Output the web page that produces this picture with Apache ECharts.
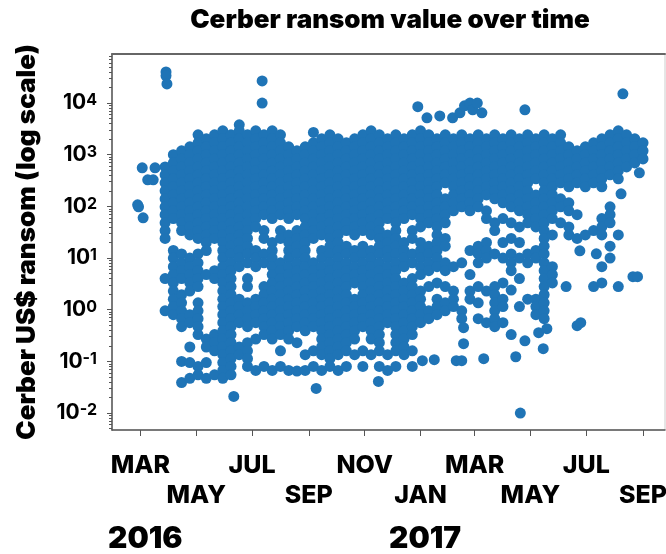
<!DOCTYPE html>
<html>
<head>
<meta charset="utf-8">
<title>Cerber ransom value over time</title>
<script src="https://cdn.jsdelivr.net/npm/echarts@6/dist/echarts.min.js"></script>
<style>
  html, body { margin: 0; padding: 0; background: #fff; }
  #chart { width: 666px; height: 554px; }
</style>
</head>
<body>
<div id="chart"></div>
<script>
const FONT = 'Inter, "Liberation Sans", sans-serif'

// x axis
const tickDates = ['2016-03-01', '2016-05-01', '2016-07-01', '2016-09-01', '2016-11-01', '2017-01-01', '2017-03-01', '2017-05-01', '2017-07-01', '2017-09-01']
const tickLabels = ['MAR', 'MAY', 'JUL', 'SEP', 'NOV', 'JAN', 'MAR', 'MAY', 'JUL', 'SEP']
const yTicks = [0.01, 0.1, 1, 10, 100, 1000, 10000]

// ransom values, grouped by date
const groupDates = [
  '2016-03-28', '2016-04-06', '2016-04-15', '2016-04-24', '2016-05-03', '2016-05-12', '2016-05-21', '2016-05-30',
  '2016-06-08', '2016-06-17', '2016-06-26', '2016-07-05', '2016-07-14', '2016-07-23', '2016-08-01', '2016-08-10',
  '2016-08-19', '2016-08-28', '2016-09-06', '2016-09-15', '2016-09-24', '2016-10-03', '2016-10-12', '2016-10-21',
  '2016-10-30', '2016-11-08', '2016-11-17', '2016-11-26', '2016-12-05', '2016-12-14', '2016-12-23', '2017-01-01',
  '2017-01-10', '2017-01-19', '2017-01-28', '2017-02-06', '2017-02-15', '2017-02-24', '2017-03-05', '2017-03-14',
  '2017-03-23', '2017-04-01', '2017-04-10', '2017-04-19', '2017-04-28', '2017-05-07', '2017-05-16', '2017-05-25',
  '2017-06-03', '2017-06-12', '2017-06-21', '2017-06-30', '2017-07-09', '2017-07-18', '2017-07-27', '2017-08-05',
  '2017-08-14', '2017-08-23', '2017-09-01'
]
const groupValues = [
  [580,408,286,200,140,98,69,48,34,24,4,.95],
  [1000,695,485,342,240,167,117,82,58,14,10,6.8,4.8,3.3,2.3,1.6,1.15,.8],
  [1190,830,580,408,286,200,140,98,69,48,34,12,8.1,5.7,4,1.95,1.36,.95,.67,.47,.1,.039],
  [1420,1000,695,485,342,240,167,117,82,58,40,28,10,6.8,4.8,3.3,2.3,.8,.56,.19,.095,.047],
  [2430,1700,1190,830,580,408,286,200,140,98,69,48,34,24,12,8.1,5.7,4,2.8,1.36,.95,.67,.47,.33,.08,.055],
  [2030,1420,1000,695,485,342,240,167,117,82,58,40,28,20,14,4.8,.27,.19,.095,.047],
  [2430,1700,1190,830,580,408,286,200,140,98,69,48,34,24,5.7,4,.33,.23,.16,.055],
  [2900,2030,1420,1000,695,485,342,240,167,117,82,58,40,28,20,14,10,6.8,4.8,3.3,2.3,1.6,1.15,.8,.56,.39,.27,.19,.135,.095,.067,.047],
  [2430,1700,1190,830,580,408,286,200,140,98,69,48,34,24,17,12,8.1,5.7,4,2.8,1.95,1.36,.95,.67,.47,.33,.23,.16,.113,.08,.055],
  [3800,2900,2030,1420,1000,695,485,342,240,167,117,82,58,40,28,20,14,10,6.8,1.6,1.15,.8,.56,.19,.135],
  [2430,1700,1190,830,580,408,286,200,140,98,69,48,34,24,17,12,8.1,4,2.8,1.36,.95,.67,.47,.23,.16,.113,.08],
  [2900,2030,1420,1000,695,485,342,240,167,117,82,58,40,14,10,6.8,1.6,1.15,.8,.56,.27,.067],
  [2430,1700,1190,830,580,408,286,200,140,98,69,34,24,12,8.1,2.8,1.95,1.36,.95,.67,.47,.33,.08],
  [2900,2030,1420,1000,695,485,342,240,167,117,82,58,20,14,10,6.8,4.8,3.3,2.3,1.6,1.15,.8,.56,.39,.27,.067],
  [2430,1700,1190,830,580,408,286,200,140,98,69,34,24,8.1,5.7,4,2.8,1.95,1.36,.95,.67,.47,.33,.16,.08],
  [1420,1000,695,485,342,240,167,117,82,58,28,20,14,10,6.8,4.8,3.3,2.3,1.6,1.15,.8,.56,.39,.27,.067],
  [1190,830,580,408,286,200,140,98,69,34,24,17,12,8.1,5.7,4,2.8,1.95,1.36,.95,.67,.47,.23,.065],
  [1420,1000,695,485,342,240,167,117,82,58,40,28,20,14,10,6.8,4.8,3.3,2.3,1.6,1.15,.8,.56,.39,.135,.067],
  [2700,1700,1190,830,580,408,286,200,140,98,69,48,34,24,8.1,5.7,4,2.8,1.95,1.36,.95,.67,.47,.16,.08],
  [2030,1420,1000,695,485,342,240,167,117,82,58,40,28,14,10,6.8,4.8,3.3,2.3,1.6,1.15,.8,.56,.39,.27,.19,.135,.067],
  [2430,1700,1190,830,580,408,286,200,140,98,69,48,34,24,17,12,8.1,5.7,4,2.8,1.95,1.36,.95,.67,.47,.33,.23,.16,.113,.08],
  [2030,1420,1000,695,485,342,240,167,117,82,58,40,28,20,14,10,6.8,4.8,3.3,2.3,1.6,1.15,.8,.56,.39,.27,.19,.135,.067],
  [1700,1190,830,580,408,286,200,140,98,69,48,34,17,12,8.1,5.7,4,2.8,1.95,1.36,.95,.67,.47,.33,.23,.16,.08],
  [2030,1420,1000,695,485,342,240,167,117,82,58,40,28,14,10,6.8,4.8,3.3,1.6,1.15,.8,.56,.39,.27,.135],
  [2430,1700,1190,830,580,408,286,200,140,98,69,48,34,17,12,8.1,5.7,4,2.8,1.95,1.36,.95,.67,.47,.16,.08],
  [2900,2030,1420,1000,695,485,342,240,167,117,82,58,40,28,14,10,6.8,4.8,3.3,2.3,1.6,1.15,.8,.56,.39,.27,.135],
  [2430,1700,1190,830,580,408,286,200,140,98,69,48,34,24,17,12,8.1,5.7,4,2.8,1.95,1.36,.95,.67,.47,.33,.23,.16,.08],
  [2030,1420,1000,695,485,342,240,167,117,82,58,28,20,14,10,6.8,4.8,3.3,2.3,1.6,1.15,.8,.56,.135,.067],
  [2430,1700,1190,830,580,408,286,200,140,98,69,48,34,24,17,12,8.1,5.7,4,2.8,1.95,1.36,.95,.67,.47,.33,.23,.16,.08],
  [2030,1420,1000,695,485,342,240,167,117,82,58,20,14,10,6.8,3.3,2.3,1.6,1.15,.8,.56,.39,.27,.19,.135],
  [2430,1700,1190,830,580,408,286,200,140,98,69,34,24,12,8.1,4,2.8,1.95,1.36,.95,.67,.47,.33,.16,.08],
  [2900,2030,1420,1000,695,485,342,240,167,117,82,58,40,20,14,10,6.8,4.8,2.3,1.6,1.15,.8,.56],
  [2430,1700,1190,830,580,408,286,200,140,98,69,48,17,12,8.1,5.7,2.8,.95,.67],
  [2030,1420,1000,695,485,342,240,167,117,82,58,40,28,20,14,10,6.8,3.3,1.6,1.15,.8],
  [2430,1700,1190,830,580,408,286,140,98,69,48,24,17,8.1,5.7,2.8,1.36,.95],
  [2030,1420,1000,695,485,342,240,167,117,82,6.8,2.3,1.6,1.15],
  [2430,1700,1190,830,580,408,286,200,140,98,8.1,.95,.67],
  [2030,1420,1000,695,485,342,240,167,117,82,14,4.8,2.3,1.6],
  [2430,1700,1190,830,580,408,286,200,140,98,17,12,8.1,2.8,1.36,.67],
  [2030,1420,1000,695,485,342,240,167,82,58,20,14,10,2.3,.56],
  [2430,1700,1190,830,580,408,286,200,140,48,34,12,2.8,1.95,1.36,.95,.67,.47],
  [2030,1420,1000,695,485,342,240,167,117,58,20,10,3.3,1.6,1.15,.56],
  [2430,1700,1190,830,580,408,286,200,140,98,48,24,12,8.1,5.7,2.4,.33],
  [2030,1420,1000,695,485,342,240,167,117,82,40,20,10,4,1.15],
  [2430,1700,1190,830,580,408,286,200,140,98,69,48,12,8.1,1.6],
  [2030,1420,1000,695,485,342,167,117,82,58,40,14,10,1.6,1.15,.8],
  [2430,1700,1190,830,580,408,286,200,140,98,69,48,34,24,17,12,8.1,5.7,4,2.8,1.95,1.36,.95,.67],
  [2030,1420,1000,695,485,342,240,167,117,82,58,28,6.8,4.8,3.3],
  [2430,1700,1190,830,580,408,286,140,98,48],
  [1420,1000,695,485,342,240,117,82,40,28],
  [1190,830,580,408,286,69,24],
  [1420,1000,695,485,342,240,28],
  [1700,1190,830,580,408,286,34,2.8],
  [2030,1420,1000,695,485,342,240,58,40,28,6.8,3.3],
  [2430,1700,1190,830,580,408,98,69,48,17,10],
  [2900,2030,1420,1000,695,485,342,28,2.8],
  [2430,1700,1190,830,580],
  [2030,1420,1000,695],
  [1700,1190,830]
]

// single dots away from the main cloud
const loneDates = [
  '2016-02-27', '2016-02-28', '2016-03-04', '2016-03-03', '2016-03-09', '2016-03-15', '2016-03-17', '2016-03-29', '2016-03-29', '2016-03-30',
  '2016-07-12', '2016-07-12', '2016-06-11', '2016-09-09', '2016-11-16', '2016-12-29', '2017-01-03', '2017-01-08', '2017-01-16', '2017-01-22',
  '2017-02-05', '2017-02-09', '2017-02-13', '2017-02-15', '2017-02-17', '2017-02-17', '2017-02-18', '2017-02-24', '2017-02-27', '2017-03-04',
  '2017-03-09', '2017-03-11', '2017-04-15', '2017-04-20', '2017-04-25', '2017-04-25', '2017-05-10', '2017-05-15', '2017-05-19', '2017-06-09',
  '2017-06-21', '2017-06-24', '2017-06-25', '2017-07-12', '2017-08-08', '2017-08-10', '2017-08-21', '2017-08-26', '2017-08-28'
]
const loneValues = [
  107, 98, 60, 558, 326, 326, 558, 40000, 33600, 23500,
  26800, 10000, .021, .03, .041, 8500, .103, 5170, .108, 5640,
  5170, .103, 6460, .103, .22, .45, 8830, 10000, 7400, 10000,
  6460, .113, .123, .01, .25, 7400, .36, .176, .43, 2.8,
  .49, 13.8, .56, 12.1, 175, 15100, 4.35, 4.35, 447
]

const toTime = d => echarts.time.parse(d).getTime()
const groupPoints = groupDates.flatMap((date, i) => groupValues[i].map(value => [toTime(date), value]))
const lonePoints = loneDates.map((date, i) => [toTime(date), loneValues[i]])

const chartInstance = echarts.init(document.getElementById('chart'))
const tickTimes = tickDates.map(toTime)
const xMin = toTime('2016-01-30')
const xMax = toTime('2017-09-25')

// month labels sit on two staggered rows, one axis for each row
const monthLabel = (rowTimes, margin) => ({
  customValues: rowTimes,
  margin: margin,
  hideOverlap: false,
  showMinLabel: true,
  showMaxLabel: true,
  lineHeight: 30,
  fontFamily: FONT,
  fontSize: 25,
  fontWeight: 800,
  color: '#000',
  formatter: value => tickLabels[tickTimes.indexOf(value)]
})

chartInstance.setOption({
  animation: false,
  backgroundColor: '#fff',
  title: {
    text: 'Cerber ransom value over time',
    left: 385,
    top: 2,
    textAlign: 'center',
    textStyle: { fontFamily: FONT, fontSize: 26, fontWeight: 900, color: '#000' }
  },
  grid: { left: 112, right: 1, top: 54, bottom: 124, show: true, borderColor: '#ccc', borderWidth: 1, outerBoundsMode: 'none' },
  xAxis: [
    {
      type: 'value',
      min: xMin,
      max: xMax,
      splitLine: { show: false },
      axisLine: { lineStyle: { color: '#555', width: 1.5 } },
      axisTick: { customValues: tickTimes, length: 6, lineStyle: { color: '#555' } },
      axisLabel: monthLabel(tickTimes.filter((t, i) => i % 2 === 0), 20)
    },
    {
      type: 'value',
      position: 'bottom',
      min: xMin,
      max: xMax,
      splitLine: { show: false },
      axisLine: { show: false },
      axisTick: { show: false },
      axisLabel: monthLabel(tickTimes.filter((t, i) => i % 2 === 1), 50)
    },
    {
      type: 'value',
      position: 'top',
      min: xMin,
      max: xMax,
      splitLine: { show: false },
      axisLine: { show: true, lineStyle: { color: '#666', width: 2 } },
      axisTick: { show: false },
      axisLabel: { show: false }
    }
  ],
  yAxis: {
    type: 'log',
    min: 0.0047,
    max: 89000,
    name: 'Cerber US$ ransom (log scale)',
    nameLocation: 'middle',
    nameRotate: 90,
    nameGap: 72,
    nameTextStyle: { fontFamily: FONT, fontSize: 26, fontWeight: 900, color: '#000' },
    splitLine: { show: false },
    axisLine: { show: true, lineStyle: { color: '#555', width: 1.5 } },
    axisTick: { customValues: yTicks, length: 5, lineStyle: { color: '#555' } },
    minorTick: { show: true, splitNumber: 9, length: 3, lineStyle: { color: '#555' } },
    minorSplitLine: { show: false },
    axisLabel: {
      customValues: yTicks,
      margin: 15,
      formatter: value => '{b|10}{s|' + Math.round(Math.log10(value)) + '}',
      rich: {
        b: { fontFamily: FONT, fontSize: 21, fontWeight: 700, color: '#000' },
        s: { fontFamily: FONT, fontSize: 16, fontWeight: 700, color: '#000', verticalAlign: 'top' }
      }
    }
  },
  graphic: [
    { type: 'text', left: 108, top: 524, style: { text: '2016', font: '900 30px ' + FONT, fill: '#000' } },
    { type: 'text', left: 389, top: 524, style: { text: '2017', font: '900 30px ' + FONT, fill: '#000' } }
  ],
  series: [
    {
      type: 'scatter',
      xAxisIndex: 0,
      symbolSize: 11,
      itemStyle: { color: '#1f74b6', opacity: 1 },
      data: groupPoints.concat(lonePoints)
    }
  ]
})
</script>
</body>
</html>
